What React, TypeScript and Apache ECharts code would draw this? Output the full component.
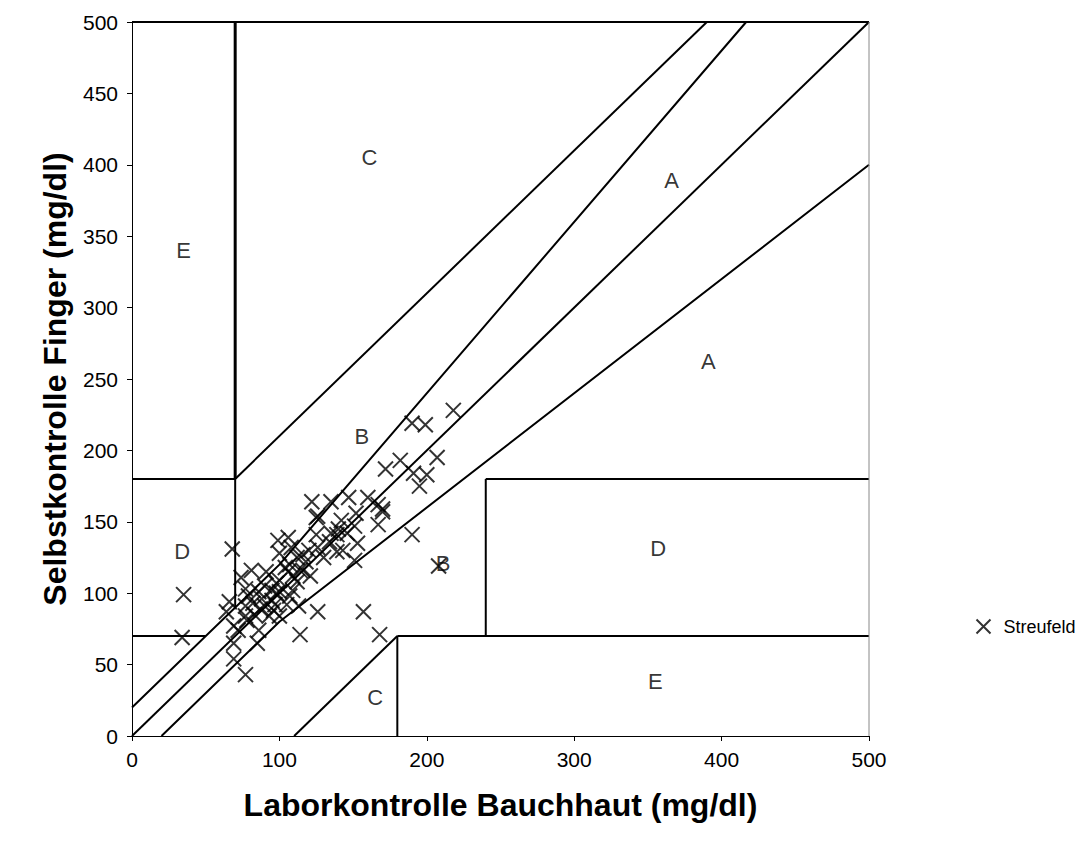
import React, { useEffect, useRef } from "react";
import * as echarts from "echarts";

// Laborkontrolle Bauchhaut (x) vs Selbstkontrolle Finger (y), mg/dl
const pointsX = [
  190, 199, 218, 172, 182, 207, 191, 200, 195, 190, 208, 170,
  122, 135, 147, 160, 167, 126, 142, 152, 170, 167, 151, 146, 139,
  125, 135, 126, 153, 143, 139, 151, 116, 116, 99, 106, 108, 125,
  100, 81, 68, 74, 91, 86, 77, 100, 106, 98, 107, 114, 100, 90, 109,
  66, 64, 87, 95, 100, 77, 107, 113, 77, 90, 83, 72, 86, 85, 69, 69,
  77, 97, 114, 168, 126, 157, 35, 34, 98, 109, 69, 78, 96,
  118, 121, 112, 104, 95, 88, 82, 79, 93, 105, 120, 130, 134, 140, 112,
];
const pointsY = [
  219, 218, 228, 187, 193, 195, 184, 183, 175, 141, 119, 159,
  164, 164, 167, 167, 162, 154, 151, 156, 157, 148, 147, 142, 141,
  141, 142, 132, 135, 130, 129, 123, 127, 116, 137, 139, 132, 153,
  128, 116, 131, 111, 115, 101, 103, 101, 115, 107, 120, 116, 109, 105, 102,
  94, 87, 89, 95, 84, 84, 98, 91, 91, 91, 85, 74, 74, 65, 65, 54,
  43, 92, 71, 71, 87, 87, 99, 69, 100, 112, 77, 81, 88,
  122, 112, 108, 118, 102, 96, 93, 98, 84, 92, 130, 125, 136, 145, 125,
];

// Zone labels of the error grid
const zoneNames = ["A", "A", "C", "E", "B", "B", "D", "D", "C", "E"];
const zoneX = [366, 391, 161, 35, 156, 211, 34, 357, 165, 355];
const zoneY = [389, 262, 405, 340, 210, 121, 129, 131, 27, 38];

// Boundary lines of the grid (polylines as [x, y] pairs)
const diagonal = [[0, 0], [500, 500]];
const upperA = [[0, 20], [100, 120], [416.67, 500]];
const lowerA = [[20, 0], [100, 80], [500, 400]];
const upperC = [[70, 180], [390, 500]];
const lowerC = [[110, 0], [180, 70]];
const leftY180 = [[0, 180], [70, 180]];
const leftY70 = [[0, 70], [50, 70]];
const vertX70Low = [[70, 90], [70, 180]];
const vertX70High = [[70, 180], [70, 500]];
const vertX240 = [[240, 70], [240, 180]];
const rightY180 = [[240, 180], [500, 180]];
const rightY70 = [[180, 70], [500, 70]];
const vertX180 = [[180, 0], [180, 70]];
const topBorder = [[0, 500], [500, 500]];
const rightBorder = [[500, 0], [500, 500]];

const CROSS = "path://M0,0L10,10M10,0L0,10";
const FONT = "'Liberation Sans', Arial, sans-serif";

function lineSeries(data: number[][], width = 2, color = "#000") {
  return {
    type: "line",
    data,
    symbol: "none",
    silent: true,
    clip: false,
    lineStyle: { color, width },
    z: 2,
  };
}

export default function App() {
  const ref = useRef<HTMLDivElement>(null);
  useEffect(() => {
    if (!ref.current) return;
    const chart = echarts.init(ref.current, undefined, { renderer: "svg" });
    const pts = pointsX.map((x, i) => [x, pointsY[i]]);
    const zones = zoneNames.map((n, i) => ({ name: n, value: [zoneX[i], zoneY[i]] }));
    chart.setOption({
      animation: false,
      backgroundColor: "#fff",
      textStyle: { fontFamily: FONT },
      grid: { left: 124, right: 212, top: 14, bottom: 110 },
      legend: {
        left: 961,
        top: 604,
        orient: "vertical",
        itemWidth: 30,
        itemHeight: 14,
        textStyle: { fontFamily: FONT, fontSize: 18, color: "#000" },
        data: [
          {
            name: "Streufeld",
            icon: CROSS,
            itemStyle: { color: "none", borderColor: "#000", borderWidth: 2 },
          },
        ],
      },
      xAxis: {
        type: "value",
        min: 0,
        max: 500,
        interval: 100,
        name: "Laborkontrolle Bauchhaut (mg/dl)",
        nameLocation: "middle",
        nameGap: 53,
        nameTextStyle: { fontFamily: FONT, fontSize: 32, fontWeight: "bold", color: "#000", verticalAlign: "top" },
        axisLine: { lineStyle: { color: "#000", width: 1 } },
        axisTick: { show: true, length: 5, lineStyle: { color: "#000" } },
        axisLabel: { fontFamily: FONT, fontSize: 21, color: "#000", margin: 13 },
        splitLine: { show: false },
      },
      yAxis: {
        type: "value",
        min: 0,
        max: 500,
        interval: 50,
        name: "Selbstkontrolle Finger (mg/dl)",
        nameLocation: "middle",
        nameRotate: 90,
        nameGap: 61,
        nameTextStyle: { fontFamily: FONT, fontSize: 32, fontWeight: "bold", color: "#000" },
        axisLine: { show: true, lineStyle: { color: "#000", width: 1 } },
        axisTick: { show: true, length: 5, lineStyle: { color: "#000" } },
        axisLabel: { fontFamily: FONT, fontSize: 21, color: "#000", margin: 14 },
        splitLine: { show: false },
      },
      series: [
        lineSeries(diagonal),
        lineSeries(upperA),
        lineSeries(lowerA),
        lineSeries(upperC),
        lineSeries(lowerC),
        lineSeries(leftY180),
        lineSeries(leftY70),
        lineSeries(vertX70Low),
        lineSeries(vertX70High, 3),
        lineSeries(vertX240),
        lineSeries(rightY180),
        lineSeries(rightY70),
        lineSeries(vertX180),
        lineSeries(topBorder),
        lineSeries(rightBorder, 1, "#888"),
        {
          type: "scatter",
          name: "zones",
          data: zones,
          symbolSize: 0,
          silent: true,
          label: {
            show: true,
            position: "inside",
            formatter: (p: any) => p.name,
            fontFamily: FONT,
            fontSize: 22,
            color: "#000",
          },
          z: 3,
        },
        {
          type: "scatter",
          name: "Streufeld",
          data: pts,
          symbol: CROSS,
          symbolSize: 15,
          itemStyle: { color: "none", borderColor: "#000", borderWidth: 2 },
          z: 4,
        },
      ],
    });
    return () => chart.dispose();
  }, []);
  return <div ref={ref} style={{ width: 1073, height: 838 }} />;
}
